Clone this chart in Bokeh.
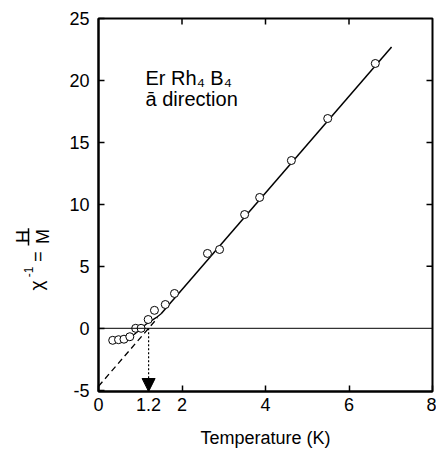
import math
from bokeh.plotting import figure
from bokeh.layouts import row
from bokeh.models import (Range1d, FixedTicker, Span, Arrow, NormalHead,
                          ColumnDataSource, Label)
from bokeh.core.properties import value
from bokeh.embed import file_html
from bokeh.resources import INLINE

# ---- data ----
temperature = [0.34, 0.48, 0.61, 0.75, 0.89, 1.02, 1.19, 1.34, 1.60, 1.82,
               2.61, 2.90, 3.50, 3.86, 4.62, 5.49, 6.63]
inv_chi = [-0.97, -0.92, -0.88, -0.68, 0.0, 0.0, 0.71, 1.45, 1.92, 2.81,
           6.04, 6.36, 9.18, 10.56, 13.54, 16.93, 21.37]

# straight Curie-Weiss fit (solid) and its extrapolation (dashed)
fit_T = [1.5, 7.02]
fit_chi = [1.17, 22.70]
extrap_T = [0.0, 1.42]
extrap_chi = [-4.68, 0.86]

# low temperature curve through the points
curve_T = [0.42, 0.55, 0.66, 0.76, 0.86, 0.96, 1.06, 1.16, 1.27, 1.38, 1.50]
curve_chi = [-0.96, -0.92, -0.84, -0.70, -0.48, -0.20, 0.10, 0.38, 0.62, 0.86, 1.17]

tc = 1.2
x_ticks = [0, 1.2, 2, 4, 6, 8]
x_tick_labels = ["0", "1.2", "2", "4", "6", "8"]
y_ticks = [-5, 0, 5, 10, 15, 20, 25]
y_tick_labels = ["-5", "0", "5", "10", "15", "20", "25"]
top_ticks = [2, 4, 6]
right_ticks = [5, 10, 15, 20]

X_MIN, X_MAX = 0, 8
Y_MIN, Y_MAX = -5.1, 25

FONT = "Liberation Sans"
LABEL_W = 60

# ---------------- main plot ----------------
p = figure(width=436 - LABEL_W, height=451, output_backend="svg", toolbar_location=None,
           x_range=Range1d(X_MIN, X_MAX), y_range=Range1d(Y_MIN, Y_MAX),
           min_border_left=98 - LABEL_W, min_border_right=4, min_border_top=18,
           min_border_bottom=60)
p.background_fill_color = "white"
p.border_fill_color = "white"
p.outline_line_color = "black"
p.outline_line_width = 2
p.xgrid.visible = False
p.ygrid.visible = False

xa = p.xaxis[0]
xa.ticker = FixedTicker(ticks=x_ticks)
xa.major_label_overrides = {t: l for t, l in zip(x_ticks, x_tick_labels)}
xa.axis_label = "Temperature (K)"
xa.axis_label_text_font = FONT
xa.axis_label_text_font_style = "normal"
xa.axis_label_text_font_size = "18px"
xa.axis_label_standoff = 14
xa.axis_label_text_color = "black"

ya = p.yaxis[0]
ya.ticker = FixedTicker(ticks=y_ticks)
ya.major_label_overrides = {t: l for t, l in zip(y_ticks, y_tick_labels)}

for ax in (xa, ya):
    ax.axis_line_color = "black"
    ax.axis_line_width = 2
    ax.major_tick_in = 6
    ax.major_tick_out = 0
    ax.minor_tick_line_color = None
    ax.major_tick_line_width = 1.5
    ax.major_tick_line_color = "black"
    ax.major_label_text_font = FONT
    ax.major_label_text_font_size = "18px"
    ax.major_label_text_color = "black"
xa.major_label_standoff = 6
ya.major_label_standoff = 9

# inward ticks on the top and right frame edges
tick_len_x = 6 / 41.75 * (X_MAX - X_MIN) / 8
tick_len_y = 6 / 373 * (Y_MAX - Y_MIN)
p.segment(x0=top_ticks, y0=[Y_MAX] * len(top_ticks), x1=top_ticks,
          y1=[Y_MAX - tick_len_y] * len(top_ticks), line_color="black", line_width=1.5)
p.segment(x0=[X_MAX] * len(right_ticks), y0=right_ticks,
          x1=[X_MAX - tick_len_x] * len(right_ticks), y1=right_ticks,
          line_color="black", line_width=1.5)

# zero line
p.add_layout(Span(location=0, dimension="width", line_color="black", line_width=1))

# lines
p.line(extrap_T, extrap_chi, line_color="black", line_width=1.3, line_dash="6 4")
p.line(fit_T, fit_chi, line_color="black", line_width=1.5)
p.line(curve_T, curve_chi, line_color="black", line_width=1.3)

# data points
src = ColumnDataSource(dict(T=temperature, chi=inv_chi))
p.scatter("T", "chi", source=src, size=8, marker="circle", fill_color="white",
          line_color="black", line_width=1)

# dotted arrow at Tc
p.add_layout(Arrow(x_start=tc, y_start=0, x_end=tc, y_end=Y_MIN,
                   line_color="black", line_width=1.2, line_dash="2 2",
                   end=NormalHead(size=13, fill_color="black", line_color="black",
                                  line_width=1)))

# compound annotation
p.add_layout(Label(x=1.126, y=19.3, text="Er Rh₄ B₄", text_font=FONT,
                   text_font_size="20px", text_color="black"))
p.add_layout(Label(x=1.126, y=17.6, text="ā direction", text_font=FONT,
                   text_font_size="20px", text_color="black"))

# ---------------- y-axis label panel: chi^-1 = H / M ----------------
# shares the main plot's y range so its frame lines up with the main frame
q = figure(width=LABEL_W, height=451, output_backend="svg", toolbar_location=None,
           x_range=Range1d(0, LABEL_W), y_range=p.y_range,
           x_axis_type=None, y_axis_type=None,
           min_border_left=0, min_border_right=0,
           min_border_top=18, min_border_bottom=60)
q.grid.visible = False
q.outline_line_color = None
q.background_fill_color = "white"
q.border_fill_color = "white"

lab = ColumnDataSource(dict(
    x=[36, 28, 37, 22, 42],
    y=[3.45, 4.55, 5.79, 7.41, 7.41],
    t=["χ", "-1", "=", "H", "M"],
    s=["19px", "12px", "18px", "18px", "18px"],
))
q.text(x="x", y="y", text="t", source=lab, angle=math.pi / 2, text_align="center",
       text_baseline="alphabetic", text_font=value(FONT), text_font_size="s",
       text_color="black")
q.segment(x0=[28], y0=[6.68], x1=[28], y1=[8.08], line_color="black", line_width=1.5)

layout = row(q, p)
open("out.html", "w").write(file_html(layout, INLINE))
